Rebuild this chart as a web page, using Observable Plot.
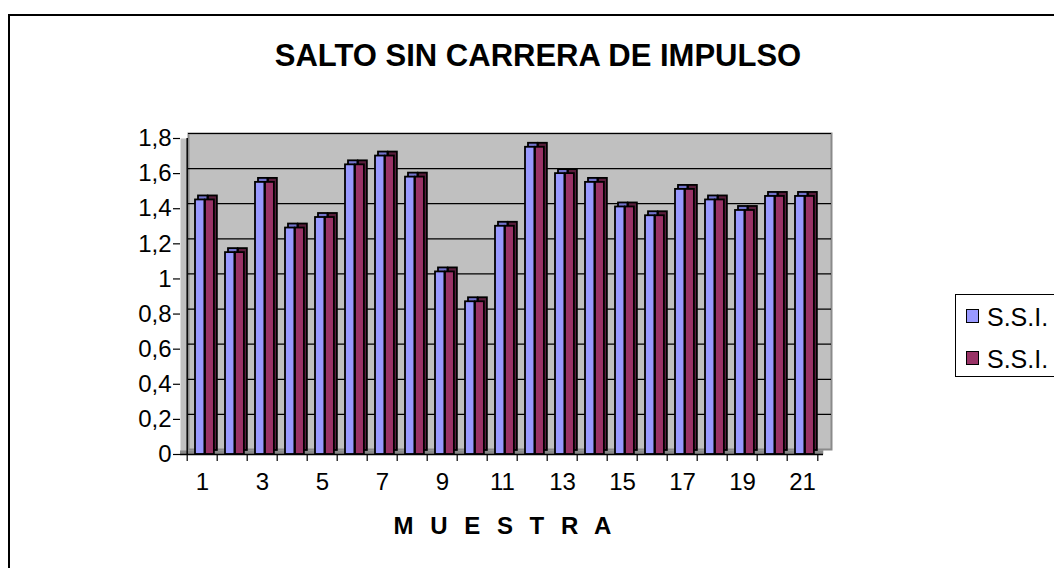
<!DOCTYPE html>
<html>
<head>
<meta charset="utf-8">
<script src="https://cdn.jsdelivr.net/npm/d3@7"></script>
<script src="https://cdn.jsdelivr.net/npm/@observablehq/plot@0.6"></script>
<style>
  html, body { margin: 0; padding: 0; background: #fff; overflow: hidden; }
  #wrap { position: relative; width: 1054px; height: 568px; font-family: Arial, "Liberation Sans", sans-serif; overflow: hidden; }
  #border { position: absolute; left: 8px; top: 14px; width: 1100px; height: 600px; border: 2px solid #000; box-sizing: border-box; }
  #chart { position: absolute; left: 0; top: 0; }
  #title { position: absolute; left: 238px; width: 600px; top: 38px; text-align: center; font-weight: bold; font-size: 31px; line-height: 36px; white-space: nowrap; }
  #xtitle { position: absolute; left: 300px; width: 410px; top: 512px; text-align: center; font-weight: bold; font-size: 24px; line-height: 28px; letter-spacing: 5px; }
  #legend { position: absolute; left: 955px; top: 294px; width: 140px; height: 83px; border: 1px solid #000; box-sizing: border-box; background: #fff; }
  .item { position: absolute; left: 10px; height: 28px; line-height: 28px; font-size: 25px; white-space: nowrap; }
  .sw { display: inline-block; width: 11px; height: 12px; border: 1.5px solid #000; vertical-align: middle; margin-right: 8px; position: relative; top: -3px; }
</style>
</head>
<body>
<div id="wrap">
  <div id="border"></div>
  <div id="chart"></div>
  <div id="title">SALTO SIN CARRERA DE IMPULSO</div>
  <div id="xtitle">M U E S T R A</div>
  <div id="legend"></div>
</div>
<script>
// ---- data ----
const categories = [1,2,3,4,5,6,7,8,9,10,11,12,13,14,15,16,17,18,19,20,21];
const serie1 = [1.45,1.15,1.55,1.29,1.35,1.65,1.70,1.58,1.04,0.87,1.30,1.75,1.60,1.55,1.41,1.36,1.51,1.45,1.39,1.47,1.47];
const serie2 = [1.45,1.15,1.55,1.29,1.35,1.65,1.70,1.58,1.04,0.87,1.30,1.75,1.60,1.55,1.41,1.36,1.51,1.45,1.39,1.47,1.47];
const seriesNames = ["S.S.I.", "S.S.I."];
const seriesColors = ["#9999FF", "#993366"];
const depthColors = ["#7373CC", "#5A1E3C"];
const yTicks = [0,0.2,0.4,0.6,0.8,1,1.2,1.4,1.6,1.8];
const xLabelTicks = [1,3,5,7,9,11,13,15,17,19,21];
const titleText = "SALTO SIN CARRERA DE IMPULSO";
const xTitleText = "M U E S T R A";

// ---- build ----
const W = 1054, H = 568;
const mL = 180, mR = 231, mT = 138, mB = 114;
const bw = (W - mL - mR) / categories.length;
const depthX = 8, depthY = -5;   // back wall offset
const barDX = 3, barDY = -4;     // bar depth

const rows1 = categories.map((c, i) => ({cat: c, v: serie1[i]}));
const rows2 = categories.map((c, i) => ({cat: c, v: serie2[i]}));

const b1L = 8, b1W = 10;
const b2L = 18, b2W = 9.5;

function barMarks(rows, k, left, width) {
  const opts = {x: "cat", y: "v", insetLeft: left, insetRight: bw - left - width, stroke: "#000", strokeWidth: 1.8};
  return [
    Plot.barY(rows, {...opts, fill: depthColors[k], dx: barDX, dy: barDY}),
    Plot.barY(rows, {...opts, fill: seriesColors[k]})
  ];
}

const fmt = d => String(d).replace(".", ",");

const chart = Plot.plot({
  width: W, height: H,
  marginLeft: mL, marginRight: mR, marginTop: mT, marginBottom: mB,
  x: {type: "band", domain: categories, padding: 0, axis: null, label: null},
  y: {domain: [0, 1.8], axis: null, label: null},
  style: {fontFamily: "Arial, 'Liberation Sans', sans-serif", fontSize: "24px", background: "transparent", overflow: "visible", color: "#000"},
  marks: [
    Plot.frame({fill: "#C0C0C0"}),
    Plot.frame({fill: "#C0C0C0", stroke: "#8A8A8A", strokeWidth: 2, dx: depthX, dy: depthY}),
    Plot.ruleY(yTicks.filter(t => t > 0), {stroke: "#000", strokeWidth: 1.2, dx: depthX, dy: depthY}),
    Plot.ruleY([0], {stroke: "#8A8A8A", strokeWidth: 4, dy: -2}),
    ...barMarks(rows1, 0, b1L, b1W),
    ...barMarks(rows2, 1, b2L, b2W),
    Plot.ruleY([0], {stroke: "#000", strokeWidth: 1.5}),
    Plot.ruleX([categories[0]], {y1: 0, y2: 1.8, dx: -bw / 2, stroke: "#000", strokeWidth: 1.5}),
    Plot.axisY({ticks: yTicks, tickFormat: fmt, tickSize: 7, tickPadding: 2, fontSize: 24, stroke: "#000", strokeWidth: 1.2, label: null}),
    Plot.axisX({ticks: categories, tickFormat: () => "", tickSize: 7, dx: -bw / 2, stroke: "#000", strokeWidth: 1.2, label: null}),
    Plot.axisX({ticks: [categories[categories.length - 1]], tickFormat: () => "", tickSize: 7, dx: bw / 2, stroke: "#000", strokeWidth: 1.2, label: null}),
    Plot.axisX({ticks: xLabelTicks, tickSize: 0, tickPadding: 18, fontSize: 24, label: null})
  ]
});
document.getElementById("chart").appendChild(chart);
document.getElementById("title").textContent = titleText;
document.getElementById("xtitle").textContent = xTitleText;

const legend = document.getElementById("legend");
seriesNames.forEach((name, i) => {
  const it = document.createElement("div");
  it.className = "item";
  it.style.top = (8 + i * 42) + "px";
  const sw = document.createElement("span");
  sw.className = "sw";
  sw.style.background = seriesColors[i];
  it.appendChild(sw);
  it.appendChild(document.createTextNode(name));
  legend.appendChild(it);
});
</script>
</body>
</html>
